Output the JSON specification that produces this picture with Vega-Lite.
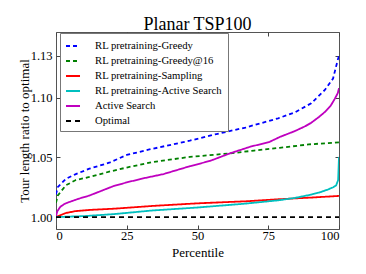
{
  "$schema": "https://vega.github.io/schema/vega-lite/v6.json",
  "autosize": "none",
  "width": 283,
  "height": 197,
  "padding": {"left": 56, "top": 32, "right": 27, "bottom": 45},
  "title": {"text": "Planar TSP100", "font": "Liberation Serif", "fontSize": 18, "fontWeight": "normal", "anchor": "middle", "offset": 3, "dy": 19, "baseline": "alphabetic", "color": "#000"},
  "config": {
    "font": "Liberation Serif",
    "view": {"stroke": "#555", "strokeWidth": 1},
    "legend": {
      "orient": "none", "legendX": 4, "legendY": 1,
      "fillColor": "#ffffff", "strokeColor": "#777", "padding": 5, "cornerRadius": 0,
      "symbolType": "stroke", "symbolSize": 196, "symbolStrokeWidth": 2,
      "labelFont": "Liberation Serif", "labelFontSize": 10.7, "labelColor": "#000", "labelOffset": 14, "rowPadding": 2, "labelLimit": 300
    },
    "axis": {"domain": false, "grid": false, "tickColor": "#444", "tickSize": -4, "labelFont": "Liberation Serif", "labelFontSize": 12.5, "labelColor": "#000", "titleFont": "Liberation Serif", "titleFontSize": 13, "titleFontWeight": "normal", "titleColor": "#000"}
  },
  "data": {"values": [
    {"series": "RL pretraining-Greedy", "percentile": 0, "ratio": 1.019},
    {"series": "RL pretraining-Greedy", "percentile": 0.6, "ratio": 1.025},
    {"series": "RL pretraining-Greedy", "percentile": 3.5, "ratio": 1.032},
    {"series": "RL pretraining-Greedy", "percentile": 7, "ratio": 1.036},
    {"series": "RL pretraining-Greedy", "percentile": 11.8, "ratio": 1.0405},
    {"series": "RL pretraining-Greedy", "percentile": 18.8, "ratio": 1.0455},
    {"series": "RL pretraining-Greedy", "percentile": 25, "ratio": 1.052},
    {"series": "RL pretraining-Greedy", "percentile": 33, "ratio": 1.0566},
    {"series": "RL pretraining-Greedy", "percentile": 47.3, "ratio": 1.064},
    {"series": "RL pretraining-Greedy", "percentile": 56.7, "ratio": 1.0695},
    {"series": "RL pretraining-Greedy", "percentile": 67, "ratio": 1.075},
    {"series": "RL pretraining-Greedy", "percentile": 78.5, "ratio": 1.0827},
    {"series": "RL pretraining-Greedy", "percentile": 84.4, "ratio": 1.0877},
    {"series": "RL pretraining-Greedy", "percentile": 90.2, "ratio": 1.0953},
    {"series": "RL pretraining-Greedy", "percentile": 95, "ratio": 1.1065},
    {"series": "RL pretraining-Greedy", "percentile": 97.9, "ratio": 1.116},
    {"series": "RL pretraining-Greedy", "percentile": 99.6, "ratio": 1.132},
    {"series": "RL pretraining-Greedy", "percentile": 100, "ratio": 1.135},
    {"series": "RL pretraining-Greedy@16", "percentile": 0, "ratio": 1.012},
    {"series": "RL pretraining-Greedy@16", "percentile": 0.6, "ratio": 1.018},
    {"series": "RL pretraining-Greedy@16", "percentile": 3.5, "ratio": 1.0266},
    {"series": "RL pretraining-Greedy@16", "percentile": 7, "ratio": 1.031},
    {"series": "RL pretraining-Greedy@16", "percentile": 11.8, "ratio": 1.0336},
    {"series": "RL pretraining-Greedy@16", "percentile": 18.8, "ratio": 1.038},
    {"series": "RL pretraining-Greedy@16", "percentile": 25, "ratio": 1.0415},
    {"series": "RL pretraining-Greedy@16", "percentile": 34, "ratio": 1.046},
    {"series": "RL pretraining-Greedy@16", "percentile": 47.3, "ratio": 1.0504},
    {"series": "RL pretraining-Greedy@16", "percentile": 61.4, "ratio": 1.0533},
    {"series": "RL pretraining-Greedy@16", "percentile": 70, "ratio": 1.0557},
    {"series": "RL pretraining-Greedy@16", "percentile": 79, "ratio": 1.058},
    {"series": "RL pretraining-Greedy@16", "percentile": 90, "ratio": 1.061},
    {"series": "RL pretraining-Greedy@16", "percentile": 100, "ratio": 1.0625},
    {"series": "RL pretraining-Sampling", "percentile": 0, "ratio": 1.0},
    {"series": "RL pretraining-Sampling", "percentile": 0.6, "ratio": 1.0006},
    {"series": "RL pretraining-Sampling", "percentile": 3.5, "ratio": 1.0034},
    {"series": "RL pretraining-Sampling", "percentile": 7, "ratio": 1.005},
    {"series": "RL pretraining-Sampling", "percentile": 12, "ratio": 1.006},
    {"series": "RL pretraining-Sampling", "percentile": 20.6, "ratio": 1.007},
    {"series": "RL pretraining-Sampling", "percentile": 34, "ratio": 1.0093},
    {"series": "RL pretraining-Sampling", "percentile": 50, "ratio": 1.0115},
    {"series": "RL pretraining-Sampling", "percentile": 67, "ratio": 1.0132},
    {"series": "RL pretraining-Sampling", "percentile": 78.5, "ratio": 1.0149},
    {"series": "RL pretraining-Sampling", "percentile": 90, "ratio": 1.0163},
    {"series": "RL pretraining-Sampling", "percentile": 100, "ratio": 1.0177},
    {"series": "RL pretraining-Active Search", "percentile": 0, "ratio": 1.0},
    {"series": "RL pretraining-Active Search", "percentile": 10, "ratio": 1.0008},
    {"series": "RL pretraining-Active Search", "percentile": 20.6, "ratio": 1.0025},
    {"series": "RL pretraining-Active Search", "percentile": 34, "ratio": 1.0055},
    {"series": "RL pretraining-Active Search", "percentile": 50, "ratio": 1.008},
    {"series": "RL pretraining-Active Search", "percentile": 66.7, "ratio": 1.0112},
    {"series": "RL pretraining-Active Search", "percentile": 78.5, "ratio": 1.014},
    {"series": "RL pretraining-Active Search", "percentile": 84.4, "ratio": 1.016},
    {"series": "RL pretraining-Active Search", "percentile": 90.2, "ratio": 1.0188},
    {"series": "RL pretraining-Active Search", "percentile": 93, "ratio": 1.0205},
    {"series": "RL pretraining-Active Search", "percentile": 96, "ratio": 1.023},
    {"series": "RL pretraining-Active Search", "percentile": 98, "ratio": 1.025},
    {"series": "RL pretraining-Active Search", "percentile": 99, "ratio": 1.0266},
    {"series": "RL pretraining-Active Search", "percentile": 99.7, "ratio": 1.031},
    {"series": "RL pretraining-Active Search", "percentile": 100, "ratio": 1.0504},
    {"series": "Active Search", "percentile": 0, "ratio": 1.001},
    {"series": "Active Search", "percentile": 0.5, "ratio": 1.005},
    {"series": "Active Search", "percentile": 1.5, "ratio": 1.0085},
    {"series": "Active Search", "percentile": 3, "ratio": 1.011},
    {"series": "Active Search", "percentile": 4.7, "ratio": 1.0126},
    {"series": "Active Search", "percentile": 8.2, "ratio": 1.0155},
    {"series": "Active Search", "percentile": 11.8, "ratio": 1.018},
    {"series": "Active Search", "percentile": 16.5, "ratio": 1.0224},
    {"series": "Active Search", "percentile": 20.6, "ratio": 1.0262},
    {"series": "Active Search", "percentile": 25, "ratio": 1.029},
    {"series": "Active Search", "percentile": 30, "ratio": 1.032},
    {"series": "Active Search", "percentile": 38, "ratio": 1.036},
    {"series": "Active Search", "percentile": 47.3, "ratio": 1.0426},
    {"series": "Active Search", "percentile": 54.4, "ratio": 1.047},
    {"series": "Active Search", "percentile": 61.4, "ratio": 1.0533},
    {"series": "Active Search", "percentile": 68.5, "ratio": 1.0588},
    {"series": "Active Search", "percentile": 75.5, "ratio": 1.063},
    {"series": "Active Search", "percentile": 79, "ratio": 1.067},
    {"series": "Active Search", "percentile": 84.4, "ratio": 1.072},
    {"series": "Active Search", "percentile": 88, "ratio": 1.076},
    {"series": "Active Search", "percentile": 90.2, "ratio": 1.079},
    {"series": "Active Search", "percentile": 93, "ratio": 1.084},
    {"series": "Active Search", "percentile": 95, "ratio": 1.088},
    {"series": "Active Search", "percentile": 97, "ratio": 1.093},
    {"series": "Active Search", "percentile": 98.5, "ratio": 1.099},
    {"series": "Active Search", "percentile": 99.6, "ratio": 1.104},
    {"series": "Active Search", "percentile": 100, "ratio": 1.108},
    {"series": "Optimal", "percentile": 0, "ratio": 1.0},
    {"series": "Optimal", "percentile": 100, "ratio": 1.0}
  ]},
  "layer": [
    {
      "mark": {"type": "line", "strokeWidth": 1.8, "clip": true},
      "encoding": {
        "x": {"field": "percentile", "type": "quantitative", "scale": {"domain": [0, 100], "nice": false, "zero": false},
              "axis": {"orient": "bottom", "values": [0, 25, 50, 75, 100], "title": "Percentile", "labelPadding": 4, "titlePadding": 5}},
        "y": {"field": "ratio", "type": "quantitative", "scale": {"domain": [0.99, 1.155], "nice": false, "zero": false},
              "axis": {"orient": "left", "values": [1.0, 1.05, 1.1, 1.135], "labelExpr": "datum.value > 1.12 ? '1.13' : format(datum.value, '.2f')", "title": "Tour length ratio to optimal", "labelPadding": 8, "titlePadding": -1}},
        "color": {"field": "series", "type": "nominal",
                  "scale": {"domain": ["RL pretraining-Greedy", "RL pretraining-Greedy@16", "RL pretraining-Sampling", "RL pretraining-Active Search", "Active Search", "Optimal"],
                            "range": ["#0000ff", "#008000", "#ff0000", "#00bfbf", "#bf00bf", "#000000"]},
                  "legend": {"title": null}},
        "strokeDash": {"field": "series", "type": "nominal",
                  "scale": {"domain": ["RL pretraining-Greedy", "RL pretraining-Greedy@16", "RL pretraining-Sampling", "RL pretraining-Active Search", "Active Search", "Optimal"],
                            "range": [[4, 3], [4, 3], [1, 0], [1, 0], [1, 0], [5, 4]]},
                  "legend": {"title": null}}
      }
    },
    {
      "mark": {"type": "line", "opacity": 0},
      "encoding": {
        "x": {"field": "percentile", "type": "quantitative", "axis": {"orient": "top", "values": [0, 25, 50, 75, 100], "labels": false, "title": null, "minExtent": 0, "maxExtent": 0}},
        "y": {"field": "ratio", "type": "quantitative", "axis": {"orient": "right", "values": [1.0, 1.05, 1.1, 1.135], "labels": false, "title": null, "minExtent": 0, "maxExtent": 0}}
      }
    }
  ]
}
